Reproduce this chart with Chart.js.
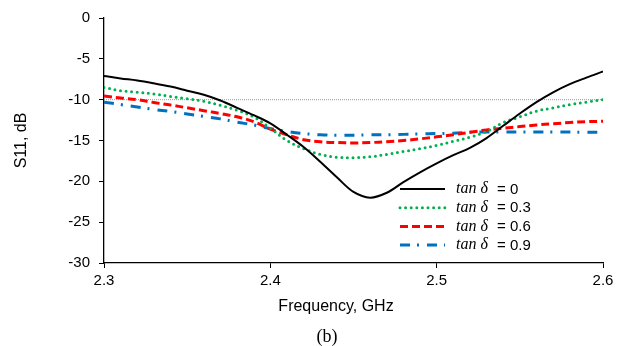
<!DOCTYPE html>
<html>
<head>
<meta charset="utf-8">
<script src="https://cdn.jsdelivr.net/npm/chart.js@4/dist/chart.umd.min.js"></script>
<style>
  html, body { margin: 0; padding: 0; background: #fff; }
  #wrap { width: 623px; height: 346px; position: relative; }
</style>
</head>
<body>
<div id="wrap"><canvas id="c" width="623" height="346"></canvas></div>
<script>
// ---- Data ----
const freqGHz = [2.30, 2.31, 2.32, 2.33, 2.34, 2.35, 2.36, 2.37, 2.38, 2.39,
                 2.40, 2.41, 2.42, 2.43, 2.44, 2.45, 2.46, 2.47, 2.48, 2.49,
                 2.50, 2.51, 2.52, 2.53, 2.54, 2.55, 2.56, 2.57, 2.58, 2.59, 2.60];

const s11_tan0  = [-7.1, -7.4, -7.65, -8.0, -8.4, -8.9, -9.4, -10.1, -11.0, -11.9,
                   -12.9, -14.3, -15.8, -17.6, -19.5, -21.3, -22.0, -21.4, -20.1, -18.9,
                   -17.8, -16.8, -15.9, -14.7, -13.2, -11.7, -10.3, -9.1, -8.1, -7.3, -6.55];

const s11_tan03 = [-8.5, -8.9, -9.1, -9.3, -9.6, -9.9, -10.2, -10.7, -11.3, -12.1,
                   -13.5, -15.0, -16.0, -16.7, -17.05, -17.1, -17.0, -16.7, -16.35, -16.0,
                   -15.6, -15.1, -14.6, -13.9, -12.8, -12.1, -11.4, -11.0, -10.6, -10.3, -10.0];

const s11_tan06 = [-9.55, -9.8, -10.0, -10.35, -10.65, -11.0, -11.35, -11.7, -12.1, -12.7,
                   -13.6, -14.3, -14.9, -15.15, -15.25, -15.3, -15.25, -15.15, -15.0, -14.8,
                   -14.55, -14.3, -14.0, -13.7, -13.5, -13.3, -13.1, -12.95, -12.8, -12.7, -12.65];

const s11_tan09 = [-10.3, -10.6, -10.9, -11.2, -11.45, -11.75, -12.05, -12.35, -12.75, -13.1,
                   -13.55, -13.9, -14.15, -14.3, -14.35, -14.35, -14.3, -14.3, -14.25, -14.2,
                   -14.15, -14.1, -14.0, -13.95, -13.95, -13.95, -13.95, -13.95, -13.95, -14.0, -14.0];

const seriesLabels = ['tan δ = 0', 'tan δ = 0.3', 'tan δ = 0.6', 'tan δ = 0.9'];
const refLevel = -10;
const xRange = [2.3, 2.6];
const yRange = [-30, 0];
const xTitle = 'Frequency, GHz';
const yTitle = 'S11, dB';
const caption = '(b)';

const toXY = arr => arr.map((v, i) => ({ x: freqGHz[i], y: v }));

const sans = "'Liberation Sans', Arial, sans-serif";
const serif = "'Liberation Serif', 'Times New Roman', serif";

// custom inline legend (mixed fonts), x-axis title and caption
const extraText = {
  id: 'extraText',
  afterDraw(chart) {
    const { ctx, chartArea } = chart;
    // legend
    const x0 = chartArea.left + 296;
    let y = chartArea.top + 171;
    const rowH = 18.7;
    chart.data.datasets.slice(0, 4).forEach(ds => {
      ctx.save();
      ctx.beginPath();
      ctx.strokeStyle = ds.borderColor;
      ctx.lineWidth = ds.borderWidth;
      ctx.lineCap = ds.borderCapStyle || 'butt';
      ctx.setLineDash(ds.borderDash || []);
      ctx.moveTo(x0, y);
      ctx.lineTo(x0 + 45, y);
      ctx.stroke();
      ctx.setLineDash([]);
      const parts = ds.label.split(' = ');
      ctx.fillStyle = '#000';
      ctx.textBaseline = 'middle';
      ctx.font = "italic 16px 'Liberation Serif', 'DejaVu Serif', serif";
      ctx.fillText(parts[0], x0 + 56, y);
      ctx.font = "15px " + sans;
      ctx.fillText('= ' + parts[1], x0 + 97, y + 0.5);
      ctx.restore();
      y += rowH;
    });
    // x-axis title and caption
    ctx.save();
    ctx.fillStyle = '#000';
    ctx.textAlign = 'center';
    ctx.textBaseline = 'middle';
    ctx.font = "16px " + sans;
    ctx.fillText(xTitle, chartArea.left + 232, chartArea.bottom + 44);
    ctx.font = "18px " + serif;
    ctx.fillText(caption, chartArea.left + 223, chartArea.bottom + 74);
    ctx.restore();
  }
};

new Chart(document.getElementById('c'), {
  type: 'line',
  data: {
    datasets: [
      { label: seriesLabels[0], data: toXY(s11_tan0), borderColor: '#000000', borderWidth: 2,
        tension: 0.35, pointRadius: 0, fill: false },
      { label: seriesLabels[1], data: toXY(s11_tan03), borderColor: '#00b050', borderWidth: 3,
        borderDash: [0, 5.6], borderCapStyle: 'round', tension: 0.35, pointRadius: 0, fill: false },
      { label: seriesLabels[2], data: toXY(s11_tan06), borderColor: '#ff0000', borderWidth: 3,
        borderDash: [8, 4], tension: 0.35, pointRadius: 0, fill: false },
      { label: seriesLabels[3], data: toXY(s11_tan09), borderColor: '#0070c0', borderWidth: 3,
        borderDash: [10, 7, 2, 8], tension: 0.35, pointRadius: 0, fill: false },
      { label: 'ref', data: [{ x: xRange[0], y: refLevel }, { x: xRange[1], y: refLevel }],
        borderColor: '#9a9a9a', borderWidth: 1, borderDash: [1, 1], pointRadius: 0, fill: false }
    ]
  },
  options: {
    responsive: false,
    animation: false,
    layout: { padding: { top: 17, right: 20, left: 0, bottom: 0 } },
    plugins: {
      legend: { display: false },
      tooltip: { enabled: false },
      title: { display: false }
    },
    scales: {
      x: {
        type: 'linear', min: xRange[0], max: xRange[1],
        afterFit(scale) { scale.height = 83; },
        ticks: {
          stepSize: 0.1, color: '#000', padding: 4,
          font: { family: sans, size: 15 },
          callback: v => Number(v).toFixed(1)
        },
        grid: { drawOnChartArea: false, drawTicks: true, tickLength: 5, color: '#000' },
        border: { color: '#000', width: 1.3 },
        title: { display: false, text: xTitle }
      },
      y: {
        min: yRange[0], max: yRange[1],
        afterFit(scale) { scale.width = 104; },
        ticks: { stepSize: 5, color: '#000', padding: 9, font: { family: sans, size: 15 } },
        grid: { drawOnChartArea: false, drawTicks: true, tickLength: 5, color: '#000' },
        border: { color: '#000', width: 1.3 },
        title: { display: true, text: yTitle, color: '#000',
                 font: { family: sans, size: 16 }, padding: { top: 12, bottom: 0 } }
      }
    }
  },
  plugins: [extraText]
});
</script>
</body>
</html>
